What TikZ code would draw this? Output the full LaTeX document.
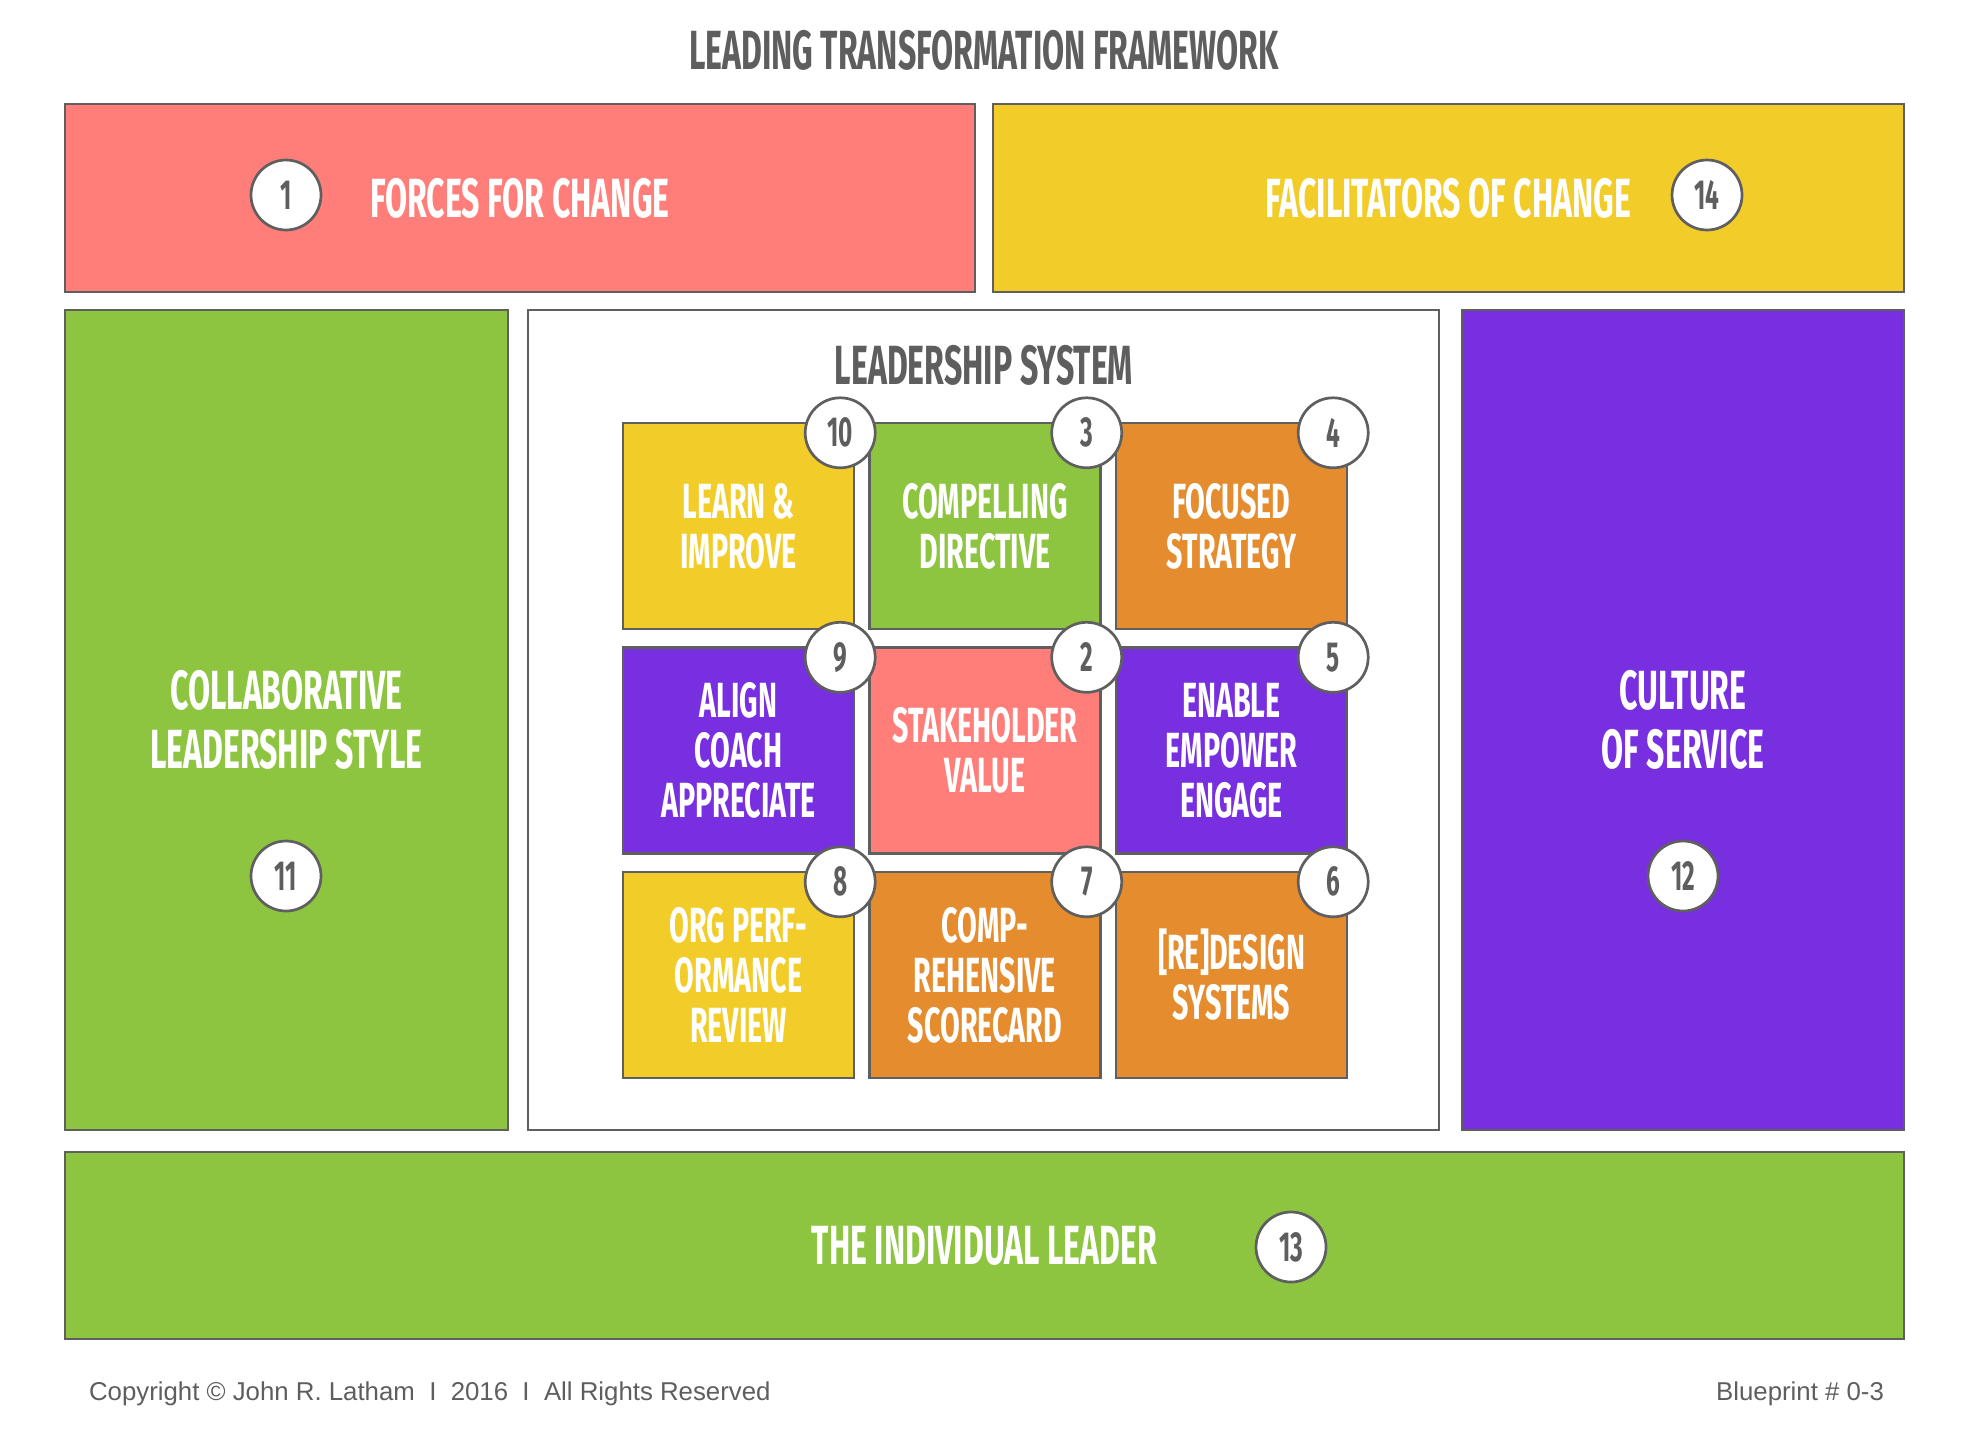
\documentclass[tikz,border=0pt]{standalone}
\usepackage{fontspec}
\setmainfont{Liberation Sans}
\newfontfamily\blockfont[FakeStretch=0.58]{Fira Sans}
\usetikzlibrary{positioning}
\definecolor{salmon}{HTML}{FF7E79}
\definecolor{sun}{HTML}{F2CD2A}
\definecolor{leaf}{HTML}{8DC541}
\definecolor{violet}{HTML}{772FE0}
\definecolor{amber}{HTML}{E58C2F}
\definecolor{edge}{HTML}{5F5F5F}
\definecolor{ink}{HTML}{5E5E5E}
\begin{document}
\begin{tikzpicture}[x=0.5pt,y=-0.5pt,
  panel/.style args={#1x#2}{draw=edge,line width=1.2pt,minimum width=#1*0.5pt,minimum height=#2*0.5pt,
    inner sep=0pt,align=center,text=white,font=\blockfont\bfseries\fontsize{27.6}{29.5}\selectfont},
  cell/.style={draw=edge,line width=1.2pt,minimum width=115.5pt,minimum height=103pt,inner sep=0pt,
    align=center,text=white,font=\blockfont\bfseries\fontsize{24.7}{25}\selectfont},
  num/.style={circle,draw=edge,fill=white,line width=1.35pt,minimum size=35pt,inner sep=0pt,
    text=ink,font=\blockfont\bfseries\fontsize{21}{21}\selectfont},
  heading/.style={text=ink,font=\blockfont\bfseries\fontsize{27.6}{29.5}\selectfont},
  foot/.style={text=ink,font=\fontsize{12.9}{14}\selectfont}]
\useasboundingbox (0,0) rectangle (1968,1440);
\node[heading] (title) at (984,50) {LEADING TRANSFORMATION FRAMEWORK};
% outer frame
\node[panel=910x188,fill=salmon] (forces) at (520,198) {FORCES FOR CHANGE};
\node[panel=911x188,fill=sun] (facil) at (1448.5,198) {FACILITATORS OF CHANGE};
\node[panel=443x820,fill=leaf] (collab) at (286.5,720) {COLLABORATIVE\\LEADERSHIP STYLE};
\node[panel=911x820,fill=white] (system) at (983.5,720) {};
\node[panel=442x820,fill=violet] (culture) at (1683,720) {CULTURE\\OF SERVICE};
\node[panel=1839x187,fill=leaf] (leader) at (984.5,1245.5) {THE INDIVIDUAL LEADER};
\node[num] (n1) at (286,195) {1};
\node[num] (n14) at (1707,195) {14};
\node[num] (n11) at (286,876) {11};
\node[num] (n12) at (1683,876) {12};
\node[num] (n13) at (1291,1247) {13};
% leadership system
\node[heading] (systitle) at (984,365) {LEADERSHIP SYSTEM};
\foreach \n/\c/\r/\col/\txt in {10/0/0/sun/{LEARN \&\\IMPROVE},3/1/0/leaf/{COMPELLING\\DIRECTIVE},
    4/2/0/amber/{FOCUSED\\STRATEGY},9/0/1/violet/{ALIGN\\COACH\\APPRECIATE},2/1/1/salmon/{STAKEHOLDER\\VALUE},
    5/2/1/violet/{ENABLE\\EMPOWER\\ENGAGE},8/0/2/sun/{ORG PERF-\\ORMANCE\\REVIEW},
    7/1/2/amber/{COMP-\\REHENSIVE\\SCORECARD},6/2/2/amber/{[RE]DESIGN\\SYSTEMS}}
  \node[cell,fill=\col] (cell\n) at (738.5+246.5*\c,526+224.5*\r) {\txt};
\foreach \n in {10,3,4,9,2,5,8,7,6}
  \node[num] (num\n) at ([shift={(-15,11)}]cell\n.north east) {\n};
% footer
\node[foot,anchor=base west] (copy) at (82,1400) {Copyright \textcopyright{} John R. Latham \ I \ 2016 \ I \ All Rights Reserved};
\node[foot,anchor=base east] (blue) at (1891,1400) {Blueprint \# 0-3};
\end{tikzpicture}
\end{document}
